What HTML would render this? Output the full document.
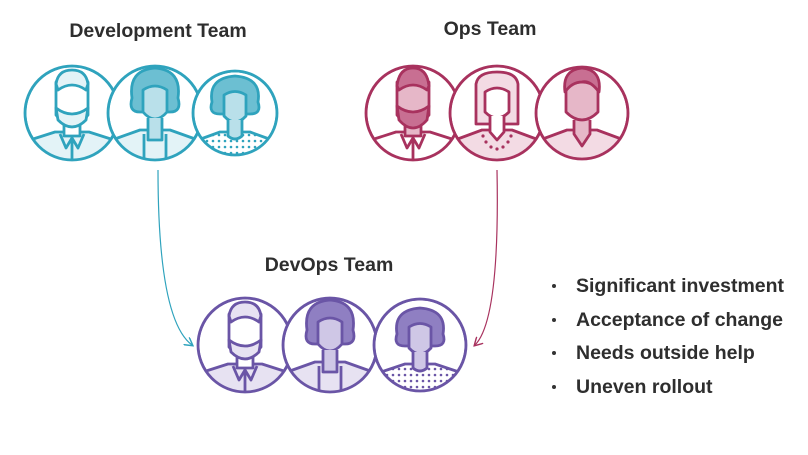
<!DOCTYPE html>
<html><head><meta charset="utf-8"><style>
html,body{margin:0;padding:0;background:#fff;}
svg text{font-family:"Liberation Sans",Arial,sans-serif;font-weight:bold;fill:#2e2e2e;}
</style></head><body>
<svg width="808" height="450" viewBox="0 0 808 450" xmlns="http://www.w3.org/2000/svg">
<defs>
<pattern id="dotT" width="6" height="6" patternUnits="userSpaceOnUse"><rect width="6" height="6" fill="#fff"/><circle cx="3" cy="3" r="1.3" fill="#2fa3bd"/></pattern>
<pattern id="dotP" width="6" height="6" patternUnits="userSpaceOnUse"><rect width="6" height="6" fill="#fff"/><circle cx="3" cy="3" r="1.3" fill="#6a55a6"/></pattern>
<clipPath id="c1"><circle cx="72" cy="113" r="46"/></clipPath>
<clipPath id="c2"><circle cx="155" cy="113" r="46"/></clipPath>
<clipPath id="c3"><circle cx="235" cy="113" r="41"/></clipPath>
<clipPath id="o1"><circle cx="413" cy="113" r="46"/></clipPath>
<clipPath id="o2"><circle cx="497" cy="113" r="46"/></clipPath>
<clipPath id="o3"><circle cx="582" cy="113" r="45"/></clipPath>
<clipPath id="d1"><circle cx="245" cy="345" r="46"/></clipPath>
<clipPath id="d2"><circle cx="330" cy="345" r="46"/></clipPath>
<clipPath id="d3"><circle cx="420" cy="345" r="45"/></clipPath>
<marker id="aT" markerWidth="8" markerHeight="8" refX="6" refY="4" orient="auto"><path d="M0,0 L7,4 L0,8" fill="none" stroke="#2fa3bd" stroke-width="1.2"/></marker>
<marker id="aM" markerWidth="8" markerHeight="8" refX="6" refY="4" orient="auto"><path d="M0,0 L7,4 L0,8" fill="none" stroke="#a8325e" stroke-width="1.2"/></marker>
</defs>

<text x="158" y="37" font-size="19.5" text-anchor="middle">Development Team</text>
<text x="490" y="35" font-size="19.5" text-anchor="middle">Ops Team</text>
<text x="329" y="271" font-size="19.5" text-anchor="middle">DevOps Team</text>

<!-- DEV team -->
<g stroke="#2fa3bd" stroke-width="2.8" stroke-linejoin="round">
 <g clip-path="url(#c1)">
  <circle cx="72" cy="113" r="47" fill="#fff"/>
  <path d="M20,165 L30,140 L55,132 L89,132 L114,140 L124,165Z" fill="#e3f3f7"/>
  <rect x="64" y="120" width="16" height="16" fill="#fff"/>
  <path d="M56,82 Q72,68 88,82 L88,115 Q72,135 56,115Z" fill="#fff"/>
  <path d="M56,84 Q58,70 72,70 Q86,70 88,84 L86,90 Q72,80 58,90Z" fill="#e3f3f7"/>
  <path d="M56,108 Q72,120 88,108 L86,120 Q72,134 58,120Z" fill="#e3f3f7"/>
  <path d="M72,136 L72,165 M60,134 L66,148 L72,138 L78,148 L84,134" fill="none"/>
 </g>
 <circle cx="72" cy="113" r="47" fill="none"/>
 <g clip-path="url(#c2)">
  <circle cx="155" cy="113" r="47" fill="#fff"/>
  <path d="M103,165 L112,140 L140,130 L170,130 L198,140 L207,165Z" fill="#e3f3f7"/>
  <path d="M132,98 Q128,70 155,68 Q182,70 178,98 Q182,112 170,112 L140,112 Q128,112 132,98Z" fill="#6cbfd2"/>
  <path d="M143,90 Q155,82 167,90 L167,112 Q155,126 143,112Z" fill="#b9e0ea"/>
  <path d="M148,118 L148,140 L162,140 L162,118" fill="#b9e0ea"/>
  <path d="M144,134 L144,165 M166,134 L166,165" fill="none"/>
 </g>
 <circle cx="155" cy="113" r="47" fill="none"/>
 <g clip-path="url(#c3)">
  <circle cx="235" cy="113" r="42" fill="#fff"/>
  <path d="M190,165 L198,140 L220,132 L250,132 L272,140 L280,165Z" fill="url(#dotT)"/>
  <path d="M212,102 Q208,78 235,76 Q262,78 258,102 Q262,114 250,114 L220,114 Q208,114 212,102Z" fill="#6cbfd2"/>
  <path d="M224,95 Q235,88 246,95 L246,116 Q235,128 224,116Z" fill="#b9e0ea"/>
  <path d="M228,120 L228,136 Q235,142 242,136 L242,120" fill="#b9e0ea"/>
 </g>
 <circle cx="235" cy="113" r="42" fill="none"/>
</g>

<!-- OPS team -->
<g stroke="#a8325e" stroke-width="2.8" stroke-linejoin="round">
 <g clip-path="url(#o1)">
  <circle cx="413" cy="113" r="47" fill="#fff"/>
  <path d="M361,165 L371,140 L396,132 L430,132 L455,140 L465,165Z" fill="#fff"/>
  <rect x="405" y="118" width="16" height="18" fill="#e6b7c8"/>
  <path d="M397,82 Q413,68 429,82 L429,115 Q413,135 397,115Z" fill="#e6b7c8"/>
  <path d="M397,86 Q399,68 413,68 Q427,68 429,86 L427,90 Q413,80 399,90Z" fill="#c86f92"/>
  <path d="M397,106 Q413,118 429,106 L427,120 Q413,136 399,120Z" fill="#c86f92"/>
  <path d="M413,136 L413,165 M401,134 L407,148 L413,138 L419,148 L425,134" fill="none"/>
 </g>
 <circle cx="413" cy="113" r="47" fill="none"/>
 <g clip-path="url(#o2)">
  <circle cx="497" cy="113" r="47" fill="#fff"/>
  <path d="M445,165 L455,140 L482,130 L512,130 L539,140 L549,165Z" fill="#f3dbe4"/>
  <path d="M476,124 L476,84 Q478,72 497,72 Q516,72 518,84 L518,124Z" fill="#f3dbe4"/>
  <path d="M485,92 Q497,84 509,92 L509,112 Q497,124 485,112Z" fill="#fff"/>
  <path d="M490,116 L490,132 L497,140 L504,132 L504,116" fill="#fff"/>
 </g>
 <g fill="#a8325e" stroke="none"><circle cx="483" cy="136" r="1.6"/><circle cx="486" cy="142" r="1.6"/><circle cx="491" cy="147" r="1.6"/><circle cx="497" cy="149" r="1.6"/><circle cx="503" cy="147" r="1.6"/><circle cx="508" cy="142" r="1.6"/><circle cx="511" cy="136" r="1.6"/></g>
 <circle cx="497" cy="113" r="47" fill="none"/>
 <g clip-path="url(#o3)">
  <circle cx="582" cy="113" r="46" fill="#fff"/>
  <path d="M530,165 L540,140 L567,130 L597,130 L624,140 L634,165Z" fill="#f3dbe4"/>
  <path d="M574,120 L574,134 L582,146 L590,134 L590,120" fill="#e6b7c8"/>
  <path d="M566,88 Q582,76 598,88 L598,112 Q582,128 566,112Z" fill="#e6b7c8"/>
  <path d="M565,92 Q562,70 582,68 Q602,70 599,92 Q590,80 582,82 Q572,82 565,92Z" fill="#c86f92"/>
 </g>
 <circle cx="582" cy="113" r="46" fill="none"/>
</g>

<!-- DEVOPS team -->
<g stroke="#6a55a6" stroke-width="2.8" stroke-linejoin="round">
 <g clip-path="url(#d1)">
  <circle cx="245" cy="345" r="47" fill="#fff"/>
  <path d="M193,397 L203,372 L228,364 L262,364 L287,372 L297,397Z" fill="#e7e2f2"/>
  <rect x="237" y="352" width="16" height="16" fill="#fff"/>
  <path d="M229,314 Q245,300 261,314 L261,347 Q245,367 229,347Z" fill="#fff"/>
  <path d="M229,316 Q231,302 245,302 Q259,302 261,316 L259,322 Q245,312 231,322Z" fill="#e7e2f2"/>
  <path d="M229,340 Q245,352 261,340 L259,352 Q245,366 231,352Z" fill="#e7e2f2"/>
  <path d="M245,368 L245,397 M233,366 L239,380 L245,370 L251,380 L257,366" fill="none"/>
 </g>
 <circle cx="245" cy="345" r="47" fill="none"/>
 <g clip-path="url(#d2)">
  <circle cx="330" cy="345" r="47" fill="#fff"/>
  <path d="M278,397 L287,372 L315,362 L345,362 L373,372 L382,397Z" fill="#e7e2f2"/>
  <path d="M307,330 Q303,302 330,300 Q357,302 353,330 Q357,344 345,344 L315,344 Q303,344 307,330Z" fill="#8f7fc2"/>
  <path d="M318,322 Q330,314 342,322 L342,344 Q330,358 318,344Z" fill="#cfc7e6"/>
  <path d="M323,350 L323,372 L337,372 L337,350" fill="#cfc7e6"/>
  <path d="M319,366 L319,397 M341,366 L341,397" fill="none"/>
 </g>
 <circle cx="330" cy="345" r="47" fill="none"/>
 <g clip-path="url(#d3)">
  <circle cx="420" cy="345" r="46" fill="#fff"/>
  <path d="M373,397 L381,372 L405,364 L435,364 L459,372 L467,397Z" fill="url(#dotP)"/>
  <path d="M397,334 Q393,310 420,308 Q447,310 443,334 Q447,346 435,346 L405,346 Q393,346 397,334Z" fill="#8f7fc2"/>
  <path d="M409,327 Q420,320 431,327 L431,348 Q420,360 409,348Z" fill="#cfc7e6"/>
  <path d="M413,352 L413,368 Q420,374 427,368 L427,352" fill="#cfc7e6"/>
 </g>
 <circle cx="420" cy="345" r="46" fill="none"/>
</g>

<!-- connectors -->
<path d="M158,170 Q158,320 192,345" fill="none" stroke="#2fa3bd" stroke-width="1.2" marker-end="url(#aT)"/>
<path d="M497,170 Q500,320 475,345" fill="none" stroke="#a8325e" stroke-width="1.2" marker-end="url(#aM)"/>

<!-- bullets -->
<g font-size="19.5">
 <circle cx="554" cy="286" r="2" fill="#333"/><text x="576" y="292">Significant investment</text>
 <circle cx="554" cy="320" r="2" fill="#333"/><text x="576" y="326">Acceptance of change</text>
 <circle cx="554" cy="353" r="2" fill="#333"/><text x="576" y="359">Needs outside help</text>
 <circle cx="554" cy="387" r="2" fill="#333"/><text x="576" y="393">Uneven rollout</text>
</g>
</svg>
</body></html>
